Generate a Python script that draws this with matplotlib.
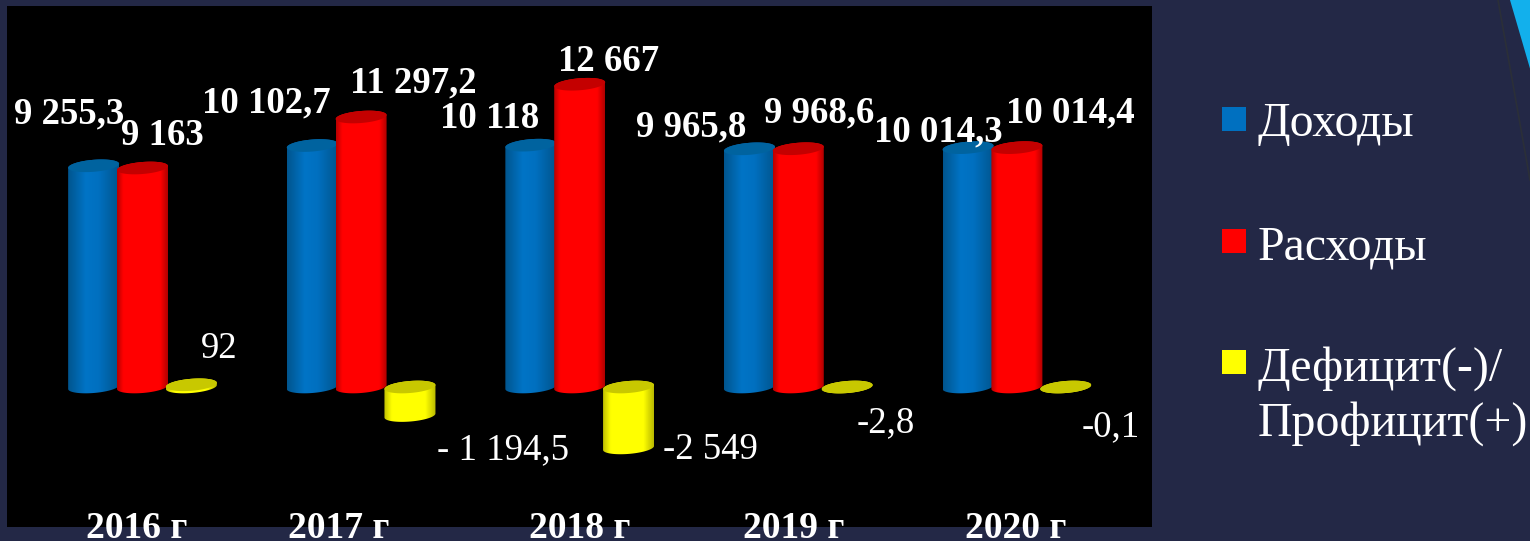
# -*- coding: utf-8 -*-
import numpy as np
import matplotlib
matplotlib.use('Agg')
import matplotlib.pyplot as plt
from matplotlib.colors import LinearSegmentedColormap
from matplotlib.patches import Polygon, Rectangle

plt.rcParams['font.family'] = ['Liberation Serif', 'DejaVu Serif']

# data
years = ['2016 г', '2017 г', '2018 г', '2019 г', '2020 г']
dohody = [9255.3, 10102.7, 10118, 9965.8, 10014.3]
rashody = [9163, 11297.2, 12667, 9968.6, 10014.4]
deficit = [92, -1194.5, -2549, -2.8, -0.1]

dohody_labels = ['9 255,3', '10 102,7', '10 118', '9 965,8', '10 014,3']
rashody_labels = ['9 163', '11 297,2', '12 667', '9 968,6', '10 014,4']
deficit_labels = ['92', '- 1 194,5', '-2 549', '-2,8', '-0,1']
legend_names = ['Доходы', 'Расходы', 'Дефицит(-)/\nПрофицит(+)']

W, H = 1530, 541
BG = '#232846'

# panel and scale in pixels
left, right, top, bottom = 7, 1152, 6, 527
base_y = 387          # pixel row of the zero line
px_per_unit = 0.0239
group_step = 218.6
first_x = 142.5       # middle of first group
bar_step = 0.2235
half_w = 25.5 / group_step
half_h = 6.0 / px_per_unit
tilt = 2.0 / px_per_unit

fig = plt.figure(figsize=(W / 100, H / 100), dpi=100, facecolor=BG)
ax = fig.add_axes([left / W, 1 - bottom / H, (right - left) / W, (bottom - top) / H])
ax.set_facecolor('black')
ax.set_xticks([])
ax.set_yticks([])
for s in ax.spines.values():
    s.set_visible(False)
xlim = ((left - first_x) / group_step, (right - first_x) / group_step)
ylim = ((base_y - bottom) / px_per_unit, (base_y - top) / px_per_unit)


def arc(x, y, t):
    return np.column_stack([x + half_w * np.cos(t), y + half_h * np.sin(t) + tilt * np.cos(t)])


def cylinder(x, value, cmap, cap_color, z):
    y_top = max(value, 0)
    y_bot = min(value, 0)
    lower = arc(x, y_bot, np.linspace(np.pi, 2 * np.pi, 50))
    upper = arc(x, y_top, np.linspace(0, np.pi, 50))
    body = Polygon(np.vstack([lower, upper]), closed=True, transform=ax.transData,
                   facecolor='none', edgecolor='none')
    ax.add_patch(body)
    grad = np.linspace(0, 1, 128).reshape(1, -1)
    im = ax.imshow(grad, cmap=cmap, aspect='auto', interpolation='bilinear', zorder=z,
                   extent=[x - half_w, x + half_w, y_bot - 2 * half_h - tilt, y_top + 2 * half_h + tilt])
    im.set_clip_path(body)
    ax.add_patch(Polygon(arc(x, y_top, np.linspace(0, 2 * np.pi, 80)), closed=True,
                         facecolor=cap_color, edgecolor='none', zorder=z + 0.1))


series = [
    (dohody, -bar_step, [(0, '#00558e'), (0.35, '#0074c6'), (0.6, '#0070c0'), (1, '#00558e')], '#00639f'),
    (rashody, 0, [(0, '#b80000'), (0.12, '#ff0000'), (0.85, '#ff0000'), (1, '#b00000')], '#c40000'),
    (deficit, bar_step, [(0, '#c0c000'), (0.15, '#ffff00'), (0.8, '#ffff00'), (1, '#b8b800')], '#c8c800'),
]
for k, (vals, off, stops, cap) in enumerate(series):
    cmap = LinearSegmentedColormap.from_list('c%d' % k, stops)
    for i, v in enumerate(vals):
        cylinder(i + off, v, cmap, cap, 2 + k)

ax.set_xlim(xlim)
ax.set_ylim(ylim)


def put(x, y, txt, **kw):
    fig.text(x / W, 1 - y / H, txt, color='white', va='baseline', **kw)


# data labels, placed by hand like in the slide (centre x, baseline y)
dohody_pos = [(69, 123), (266, 112), (490, 128), (691, 136), (938, 141)]
rashody_pos = [(162, 145), (413, 92), (609, 71), (819, 122), (1070, 122)]
deficit_pos = [(219, 358), (503, 459), (710, 459), (886, 432), (1111, 436)]
for labels, pos in ((dohody_labels, dohody_pos), (rashody_labels, rashody_pos)):
    for t, (x, y) in zip(labels, pos):
        put(x, y, t, ha='center', fontsize=26.5, fontweight='bold')
for t, (x, y) in zip(deficit_labels, deficit_pos):
    put(x, y, t, ha='center', fontsize=26.5)

# year labels sit over the panel edge
year_x = [137, 339, 580, 794, 1016]
for t, x in zip(years, year_x):
    put(x, 538, t, ha='center', fontsize=27, fontweight='bold')

# legend
legend_colors = ['#0070c0', '#ff0000', '#ffff00']
legend_y = [107, 229, 350]
legend_base = [136, 259, 381]
for name, c, y, b in zip(legend_names, legend_colors, legend_y, legend_base):
    fig.add_artist(Rectangle((1222 / W, 1 - (y + 24) / H), 24 / W, 24 / H, transform=fig.transFigure,
                             facecolor=c, edgecolor='none'))
    lines = name.split('\n')
    for j, line in enumerate(lines):
        put(1258, b + j * 55, line, ha='left', fontsize=34.5)

# corner decoration of the slide
fig.add_artist(Polygon([(1510 / W, 1), (1 + 1 / W, 1), (1 + 1 / W, 1 - 72 / H)], closed=True,
                       transform=fig.transFigure, facecolor='#12b0ec', edgecolor='none'))
fig.add_artist(plt.Line2D([1498 / W, 1], [1, 1 - 180 / H], transform=fig.transFigure,
                          color='#2b2f38', lw=1.2))

fig.savefig('out.png', dpi=100, facecolor=BG)
